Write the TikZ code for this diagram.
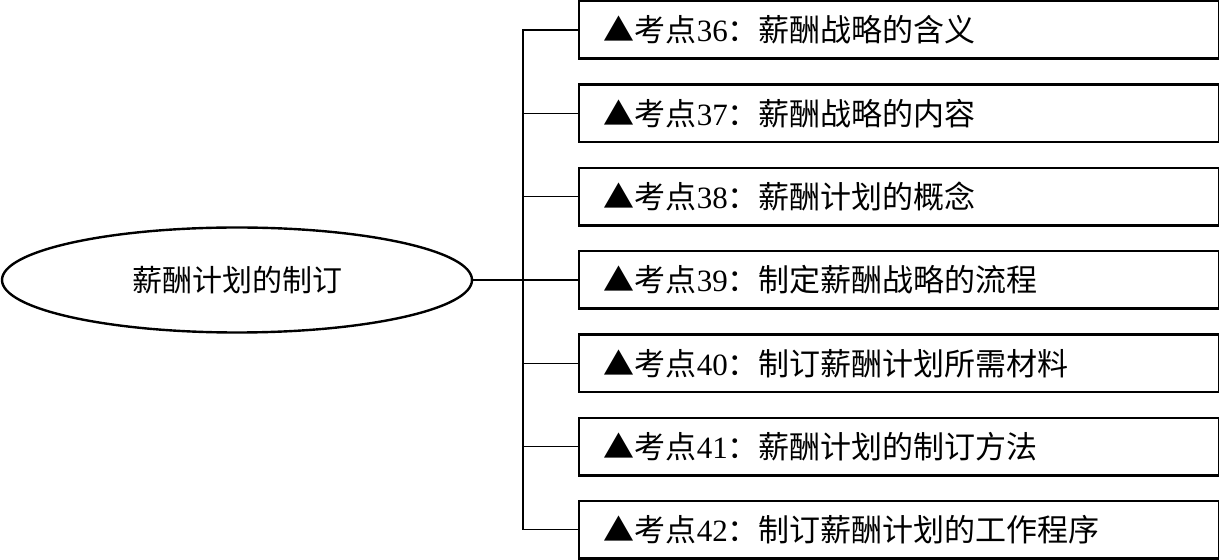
\documentclass[tikz,border=0pt]{standalone}
\usepackage{fontspec}
\setmainfont{Liberation Serif}
\newfontfamily\cjk{Noto Sans CJK SC}
\usetikzlibrary{shapes.geometric}
\begin{document}
\begin{tikzpicture}[x=0.5pt,y=-0.5pt,
  itembox/.style={draw, line width=1.25pt, anchor=west, minimum width=320pt,
    minimum height=28.75pt, text width=295pt, align=left, inner xsep=12pt,
    inner ysep=0pt, font=\fontsize{15.5}{18}\selectfont},
  topic/.style={draw, ellipse, line width=1.2pt, minimum width=235pt,
    minimum height=52.5pt, inner sep=0pt, font=\fontsize{15}{18}\selectfont\cjk},
  conn/.style={line width=0.65pt}]
\useasboundingbox (0,0) rectangle (1219,560);
\node[topic] (root) at (237,280) {薪酬计划的制订};
\node[itembox] (b1) at (577.5,30.0) {{\cjk ▲考点}36{\cjk ：薪酬战略的含义}};
\node[itembox] (b2) at (577.5,113.3) {{\cjk ▲考点}37{\cjk ：薪酬战略的内容}};
\node[itembox] (b3) at (577.5,196.6) {{\cjk ▲考点}38{\cjk ：薪酬计划的概念}};
\node[itembox] (b4) at (577.5,280.0) {{\cjk ▲考点}39{\cjk ：制定薪酬战略的流程}};
\node[itembox] (b5) at (577.5,363.3) {{\cjk ▲考点}40{\cjk ：制订薪酬计划所需材料}};
\node[itembox] (b6) at (577.5,446.6) {{\cjk ▲考点}41{\cjk ：薪酬计划的制订方法}};
\node[itembox] (b7) at (577.5,529.5) {{\cjk ▲考点}42{\cjk ：制订薪酬计划的工作程序}};
\coordinate (trunk) at (523,0);
\draw[conn] (b1.west) -- (b1.west -| trunk) -- (b7.west -| trunk) -- (b7.west);
\foreach \b in {b2,b3,b5,b6} {
  \draw[conn] (\b.west) -- (\b.west -| trunk);
}
\draw[conn] (root.east) -- (b4.west);
\end{tikzpicture}
\end{document}
